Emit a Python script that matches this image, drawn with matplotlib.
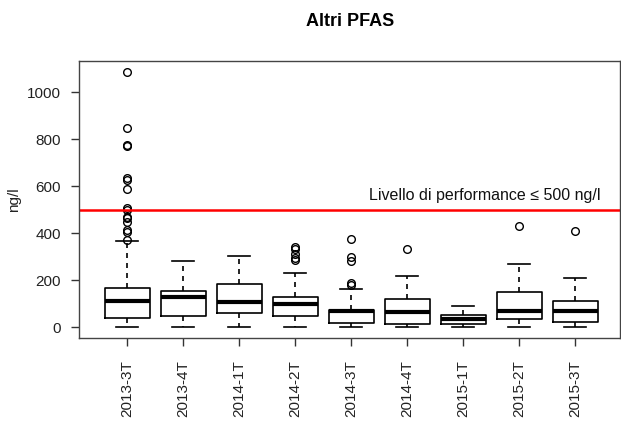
import matplotlib.pyplot as plt

plt.rcParams['font.family'] = ['Liberation Sans', 'DejaVu Sans']

# Trimestri e statistiche dei boxplot (ng/l)
trimestri = ["2013-3T", "2013-4T", "2014-1T", "2014-2T", "2014-3T",
             "2014-4T", "2015-1T", "2015-2T", "2015-3T"]
mediana = [112, 129, 107, 101, 68, 65, 37, 70, 70]
q1 = [38, 50, 63, 48, 18, 14, 14, 37, 23]
q3 = [169, 157, 183, 129, 73, 120, 52, 152, 114]
baffo_basso = [0, 0, 0, 0, 0, 0, 0, 0, 0]
baffo_alto = [368, 282, 303, 233, 162, 219, 91, 270, 210]
outlier = [
    [1087, 848, 775, 770, 635, 627, 588, 507, 500, 471, 465, 449, 414, 407, 372],
    [],
    [],
    [343, 332, 314, 297, 288],
    [375, 300, 282, 189, 182],
    [334],
    [],
    [430],
    [408],
]
soglia = 500

stats = []
for i in range(len(trimestri)):
    stats.append({"med": mediana[i], "q1": q1[i], "q3": q3[i],
                  "whislo": baffo_basso[i], "whishi": baffo_alto[i],
                  "fliers": outlier[i], "label": trimestri[i]})

fig = plt.figure(figsize=(6.21, 4.23), dpi=100)
ax = fig.add_axes([79/621, 85/423, 541/621, 277/423])

ax.bxp(stats, widths=0.8, patch_artist=False,
       boxprops=dict(color="black", linewidth=1.2),
       medianprops=dict(color="black", linewidth=3),
       whiskerprops=dict(color="black", linewidth=1.2, linestyle=(0, (3, 3))),
       capprops=dict(color="black", linewidth=1.2),
       capwidths=0.4,
       flierprops=dict(marker="o", markerfacecolor="none",
                       markeredgecolor="black", markersize=5.5,
                       markeredgewidth=1))

ax.axhline(soglia, color="red", linewidth=1.8)
ax.text(9.45, soglia + 28, "Livello di performance \u2264 500 ng/l",
        fontsize=11.5, color="#111111", ha="right", va="bottom")

ax.set_xlim(0.14, 9.8)
ax.set_ylim(-45, 1133)
ax.set_yticks([0, 200, 400, 600, 800, 1000])
ax.set_xticklabels(trimestri, rotation=90)
ax.tick_params(axis="both", labelsize=11, length=6, width=1,
               colors="#333333", pad=7)
ax.tick_params(axis="x", pad=10)
ax.tick_params(axis="both", labelcolor="#222222")
for s in ax.spines.values():
    s.set_color("#444444")
    s.set_linewidth(1)

ax.set_ylabel("ng/l", fontsize=11, color="#222222", labelpad=4)
fig.text(350/621, 1 - 21/423, "Altri PFAS", fontsize=13, fontweight="bold",
         ha="center", va="center")

plt.savefig("out.png", dpi=100)
